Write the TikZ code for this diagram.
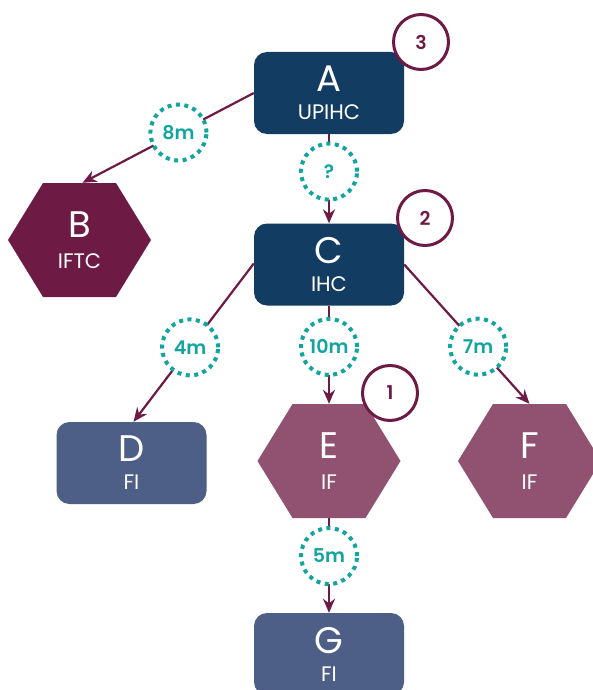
\documentclass[tikz,border=0pt]{standalone}
\usepackage{fontspec}
\setmainfont{Poppins}
\newfontfamily\pmed{Poppins}[UprightFont=* SemiBold]
\usetikzlibrary{arrows.meta}
\definecolor{navy}{HTML}{133C62}
\definecolor{maroon}{HTML}{6D1B45}
\definecolor{slate}{HTML}{4D5F86}
\definecolor{mauve}{HTML}{915271}
\definecolor{teal2}{HTML}{12A5A0}
\newcommand\bigltr[1]{{\fontsize{37}{28}\selectfont #1}}
\begin{document}
\begin{tikzpicture}[x=1pt,y=-1pt,
  txt/.style={text=white,align=center,font=\fontsize{21}{28}\selectfont},
  rbox/.style={txt,rounded corners=13pt,minimum width=150pt,minimum height=82pt,inner sep=0pt,fill=#1},
  hexa/.style={txt,font=\fontsize{21}{31}\selectfont,minimum width=143pt,minimum height=114pt,inner sep=0pt,
    path picture={\fill[#1] (path picture bounding box.west)
      -- ([xshift=35pt]path picture bounding box.north west)
      -- ([xshift=-35pt]path picture bounding box.north east)
      -- (path picture bounding box.east)
      -- ([xshift=-35pt]path picture bounding box.south east)
      -- ([xshift=35pt]path picture bounding box.south west) -- cycle;}},
  conn/.style={draw=maroon,line width=2.2pt,-{Stealth[length=14pt,width=12pt]}},
  dist/.style={circle,fill=white,draw=teal2,line width=4pt,dash pattern=on 4pt off 4.5pt,
    minimum size=56pt,inner sep=0pt,text=teal2,font=\fontsize{19}{20}\pmed},
  num/.style={circle,fill=white,draw=maroon,line width=3pt,minimum size=55pt,inner sep=0pt,
    text=maroon,font=\fontsize{19}{20}\pmed}]
\useasboundingbox (0,0) rectangle (593,690);
\node[rbox=navy] (A) at (329,93) {\bigltr{A}\\UPIHC};
\node[rbox=navy] (C) at (329,264.5) {\bigltr{C}\\IHC};
\node[hexa=maroon] (B) at (79.5,240) {\bigltr{B}\\IFTC};
\node[rbox=slate] (D) at (131.5,463) {\bigltr{D}\\FI};
\node[hexa=mauve] (E) at (329,461) {\bigltr{E}\\IF};
\node[hexa=mauve] (F) at (529.5,461) {\bigltr{F}\\IF};
\node[rbox=slate] (G) at (329,654) {\bigltr{G}\\FI};

\draw[conn] (A.west) -- node[dist,pos=0.44] (d8) {8m} ([xshift=3pt]B.north);
\draw[conn] ([yshift=1pt]C.west) -- node[dist,pos=0.53] (d4) {4m} ([xshift=2pt]D.north);
\draw[conn] (A.south) -- node[dist,pos=0.42] (dq) {?} (C.north);
\draw[conn] (C.south) -- node[dist,pos=0.42] (d10) {10m} (E.north);
\draw[conn] (C.east) -- node[dist,pos=0.59] (d7) {7m} (F.north);
\draw[conn] (E.south) -- node[dist,pos=0.4] (d5) {5m} (G.north);

\node[num] (n3) at (421,42) {3};
\node[num] (n2) at (425,218) {2};
\node[num] (n1) at (390,393) {1};
\end{tikzpicture}
\end{document}
